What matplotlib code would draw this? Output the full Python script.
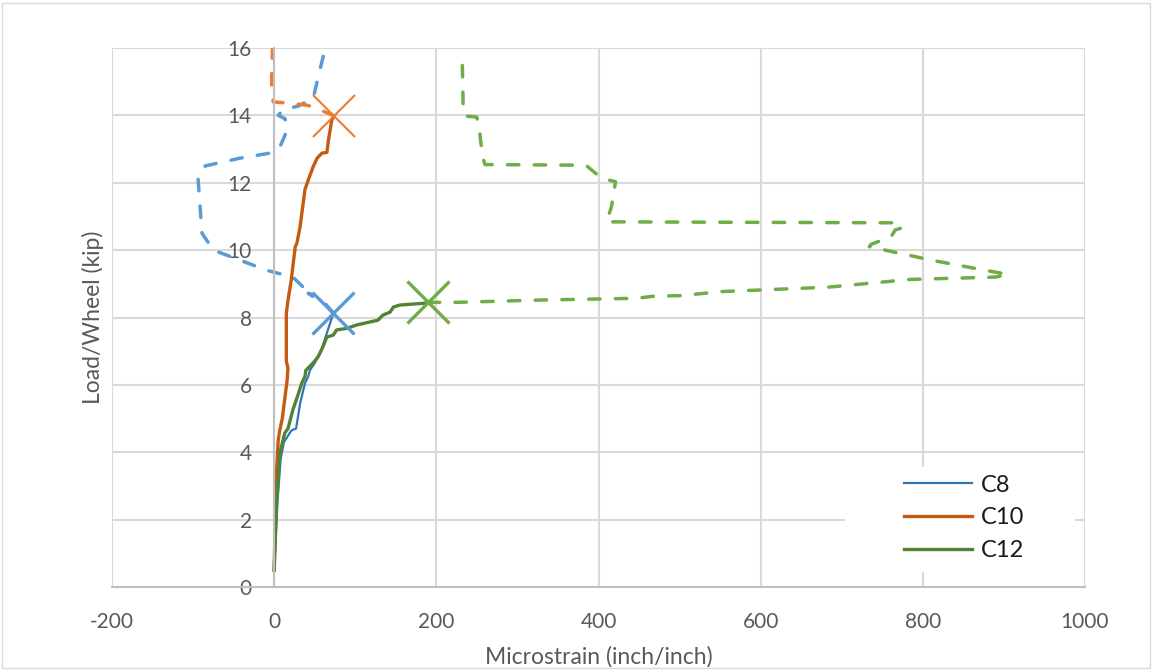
import matplotlib
matplotlib.use("Agg")
import matplotlib.pyplot as plt
from matplotlib.patches import Rectangle

# ---------------- data ----------------
c8_x = [0, 4, 8, 12, 20, 22, 27, 32, 38, 42, 44, 50, 57, 65, 71, 73]
c8_y = [0.5, 2.5, 3.8, 4.3, 4.6, 4.66, 4.7, 5.45, 6.05, 6.25, 6.43, 6.65, 6.95, 7.54, 7.98, 8.13]

c10_x = [0, 2, 5, 7, 10, 16, 17, 15, 15, 17, 21, 26, 28, 32, 38, 42, 48, 53, 59, 65, 67, 71, 74]
c10_y = [0.5, 3.0, 4.36, 4.66, 5.0, 6.14, 6.5, 6.7, 8.13, 8.5, 9.1, 10.1, 10.2, 10.7, 11.8, 12.08,
         12.47, 12.73, 12.88, 12.9, 13.27, 13.86, 13.98]

c12_x = [0, 3, 7, 13, 17, 23, 30, 34, 38, 39, 48, 54, 60, 65, 73, 77, 90, 102, 128, 134, 143,
         147, 155, 189, 190]
c12_y = [0.5, 2.5, 3.97, 4.57, 4.7, 5.25, 5.75, 6.05, 6.25, 6.43, 6.65, 6.83, 7.12, 7.42, 7.48,
         7.63, 7.68, 7.78, 7.92, 8.07, 8.16, 8.31, 8.37, 8.43, 8.46]

c8d_x = [73, 58, 47, 42, 48, 23, -9, -75, -89, -94, -85, -42, -5, 7, 16, 13.5, 5, 11, 30, 48, 57, 63]
c8d_y = [8.13, 8.55, 8.68, 8.72, 8.62, 9.2, 9.4, 10.0, 10.5, 12.17, 12.5, 12.73, 12.88, 13.06,
         13.56, 13.9, 14.0, 14.16, 14.28, 14.5, 15.4, 16.0]

c10d_x = [74, 54, 41, 20, -1, -3, -3, -2]
c10d_y = [13.98, 14.2, 14.3, 14.36, 14.4, 14.65, 15.25, 16.0]

c12d_x = [190, 225, 331, 447, 467, 502, 552, 683, 784, 890, 905, 864, 809, 744, 734, 736, 761,
          766, 773, 773, 410, 416, 421, 404, 386, 381, 260, 257, 253, 250, 235, 233, 232]
c12d_y = [8.45, 8.45, 8.52, 8.57, 8.63, 8.65, 8.77, 8.9, 9.13, 9.2, 9.28, 9.46, 9.71, 10.05, 10.1,
          10.17, 10.4, 10.6, 10.65, 10.81, 10.84, 11.29, 12.03, 12.13, 12.49, 12.52, 12.54, 12.77,
          13.6, 13.95, 13.98, 14.35, 15.6]

x_ticks = [-200, 0, 200, 400, 600, 800, 1000]
y_ticks = [0, 2, 4, 6, 8, 10, 12, 14, 16]
series_labels = ["C8", "C10", "C12"]

# ---------------- style ----------------
plt.rcParams['font.family'] = ['Lato', 'DejaVu Sans']
plt.rcParams['axes.unicode_minus'] = False
dark = ['#2E75B6', '#C55A11', '#548235']
light = ['#5B9BD5', '#ED7D31', '#70AD47']
grid_c = '#D9D9D9'
txt_c = '#595959'

fig = plt.figure(figsize=(11.53, 6.71), dpi=100)
fig.patches.append(Rectangle((0.002, 0.004), 0.995, 0.992, transform=fig.transFigure,
                             fill=False, edgecolor='#D9D9D9', linewidth=1.0))
ax = fig.add_axes([112 / 1153, 1 - 587 / 671, (1085 - 112) / 1153, (587 - 48) / 671])

ax.set_xlim(-200, 1000)
ax.set_ylim(0, 16)
ax.set_xticks(x_ticks)
ax.set_yticks(y_ticks)
ax.grid(True, color=grid_c, linewidth=1.5)
ax.set_axisbelow(True)
for s in ['top', 'right']:
    ax.spines[s].set_visible(False)
ax.spines['left'].set_position(('data', 0))
ax.spines['left'].set_color('#BFBFBF')
ax.spines['left'].set_linewidth(1.5)
ax.spines['bottom'].set_color('#BFBFBF')
ax.spines['bottom'].set_linewidth(1.5)
ax.tick_params(length=0, labelsize=15, labelcolor=txt_c)
ax.tick_params(axis='x', pad=18)
ax.tick_params(axis='y', pad=16)

dash = dict(linestyle=(0, (3.3, 4.4)), dash_capstyle='round', linewidth=2.5)

# dashed series (post-peak)
ax.plot(c8d_x, c8d_y, color=light[0], **dash)
ax.plot(c10d_x, c10d_y, color=light[1], **dash)
ax.plot(c12d_x, c12d_y, color=light[2], **dash)

# solid series
l8, = ax.plot(c8_x, c8_y, color=dark[0], linewidth=1.6, label=series_labels[0])
l10, = ax.plot(c10_x, c10_y, color=dark[1], linewidth=2.4, label=series_labels[1])
l12, = ax.plot(c12_x, c12_y, color=dark[2], linewidth=2.4, label=series_labels[2])

# peak markers
ax.plot([c8d_x[0]], [c8d_y[0]], marker='x', markersize=30, markeredgewidth=2.4,
        color=light[0], linestyle='none')
ax.plot([c10d_x[0]], [c10d_y[0]], marker='x', markersize=30, markeredgewidth=1.5,
        color=light[1], linestyle='none')
ax.plot([c12d_x[0]], [c12d_y[0]], marker='x', markersize=30, markeredgewidth=2.4,
        color=light[2], linestyle='none')

ax.set_xlabel("Microstrain (inch/inch)", fontsize=16.5, color=txt_c, labelpad=10)
ax.set_ylabel("Load/Wheel (kip)", fontsize=16.5, color=txt_c)
ax.yaxis.set_label_coords(-0.008, 0.5)

# white legend background box
ax.add_patch(Rectangle((0.7533, 0.0278), 0.2364, 0.1948, transform=ax.transAxes,
                       facecolor='white', edgecolor='none', zorder=1))
leg = ax.legend(handles=[l8, l10, l12], loc='center',
                bbox_to_anchor=((964 - 112) / 973, 1 - (518 - 48) / 539),
                fontsize=17, frameon=False, handlelength=2.9, labelspacing=0.5,
                handletextpad=0.35, borderpad=0.2, borderaxespad=0)
for t in leg.get_texts():
    t.set_color('#1a1a1a')

fig.savefig("out.png", dpi=100)
